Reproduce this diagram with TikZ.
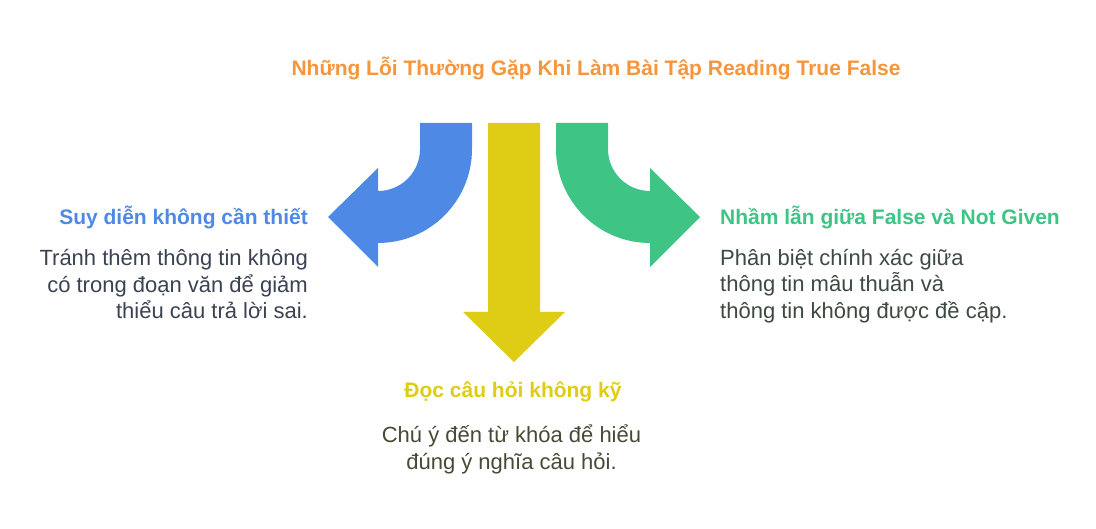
\documentclass[tikz,border=0pt]{standalone}
\usepackage{fontspec}
\setmainfont{Liberation Sans}
\usepackage{xcolor}
\usepackage{tikz}
\usetikzlibrary{positioning}

\definecolor{arrowblue}{HTML}{4E89E6}
\definecolor{arrowyellow}{HTML}{DFCC15}
\definecolor{arrowgreen}{HTML}{3EC585}
\definecolor{titleorange}{HTML}{F6963C}
\definecolor{textblue}{HTML}{3B4252}
\definecolor{textgreen}{HTML}{3D4A42}
\definecolor{textyellow}{HTML}{4A4936}

\begin{document}
\begin{tikzpicture}[
    x=1pt, y=-1pt,
    title/.style={inner sep=0pt, font=\fontsize{21}{25}\selectfont\bfseries, text=titleorange},
    heading/.style={inner sep=0pt, font=\fontsize{21}{25}\selectfont\bfseries},
    body/.style={inner sep=0pt, font=\fontsize{22}{26.7}\selectfont}
]
\useasboundingbox[fill=white] (0,0) rectangle (1096,529);

% Title
\node[title, anchor=base] (title) at (596,76) {Những Lỗi Thường Gặp Khi Làm Bài Tập Reading True False};

% Left arrow
\fill[arrowblue] (420,123) -- (420,149) arc[start angle=0, end angle=90, radius=42]
    -- (378,168) -- (328,217) -- (378,267) -- (378,243)
    arc[start angle=90, end angle=0, radius=94] -- (472,123) -- cycle;

% Middle arrow
\fill[arrowyellow] (488,123) -- (488,312) -- (463,312) -- (514,362) -- (565,312) -- (540,312) -- (540,123) -- cycle;

% Right arrow
\fill[arrowgreen] (608,123) -- (608,149) arc[start angle=180, end angle=90, radius=42]
    -- (650,168) -- (700,217) -- (650,267) -- (650,243)
    arc[start angle=90, end angle=180, radius=94] -- (556,123) -- cycle;

% Left text (base = last line)
\node[heading, text=arrowblue, anchor=base east] (lhead) at (308,225) {Suy diễn không cần thiết};
\node[body, text=textblue, align=right, anchor=base east] (lbody) at (308,319) {Tránh thêm thông tin không\\có trong đoạn văn để giảm\\thiểu câu trả lời sai.};

% Right text
\node[heading, text=arrowgreen, anchor=base west] (rhead) at (720,225) {Nhầm lẫn giữa False và Not Given};
\node[body, text=textgreen, align=left, anchor=base west] (rbody) at (720,318.5) {Phân biệt chính xác giữa\\thông tin mâu thuẫn và\\thông tin không được đề cập.};

% Middle text
\node[heading, text=arrowyellow, anchor=base] (mhead) at (513,398) {Đọc câu hỏi không kỹ};
\node[body, text=textyellow, align=center, anchor=base] (mbody) at (511.5,469.3) {Chú ý đến từ khóa để hiểu\\đúng ý nghĩa câu hỏi.};

\end{tikzpicture}
\end{document}
